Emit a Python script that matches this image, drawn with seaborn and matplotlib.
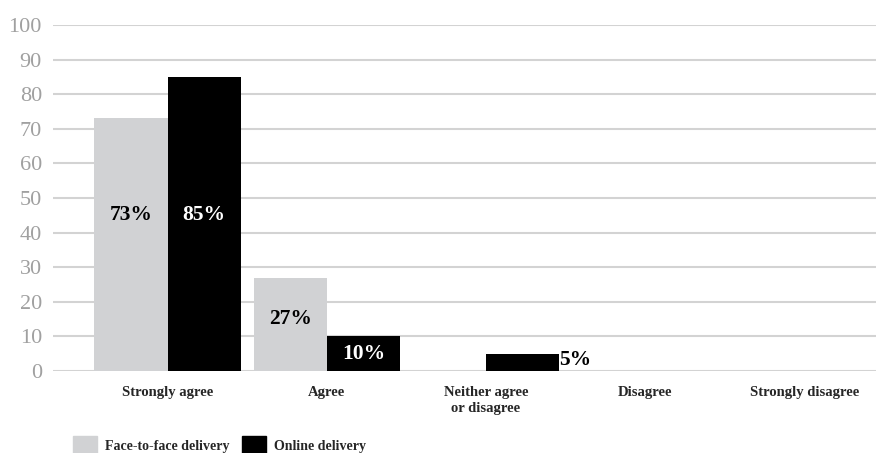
import matplotlib
matplotlib.use("Agg")
import matplotlib.pyplot as plt
import seaborn as sns
import pandas as pd

# Survey responses (% of respondents)
categories = ["Strongly agree", "Agree", "Neither agree\nor disagree",
              "Disagree", "Strongly disagree"]
face_to_face = [73, 27, 0, 0, 0]
online = [85, 10, 5, 0, 0]
series = ["Face-to-face delivery", "Online delivery"]
y_ticks = [0, 10, 20, 30, 40, 50, 60, 70, 80, 90, 100]

df = pd.DataFrame({
    "response": categories * 2,
    "percent": face_to_face + online,
    "delivery": [series[0]] * len(categories) + [series[1]] * len(categories),
})

sns.set_theme(style="white")
plt.rcParams["font.family"] = ["Liberation Serif", "DejaVu Serif"]

fig = plt.figure(figsize=(8.76, 4.53), dpi=100)
ax = fig.add_axes([53 / 876, 1 - 371 / 453, 1 - 53 / 876, (371 - 25) / 453])

palette = {series[0]: "#d1d2d4", series[1]: "#000000"}
sns.barplot(data=df, x="response", y="percent", hue="delivery",
            order=categories, hue_order=series, palette=palette,
            width=0.92, gap=0, linewidth=0, saturation=1,
            legend=False, ax=ax)

ax.set_ylim(0, 100)
ax.set_xlim(-0.72, 4.45)
ax.set_yticks(y_ticks)
ax.yaxis.grid(True, color="#d3d3d3", linewidth=1.5)
ax.set_axisbelow(True)
for s in ax.spines.values():
    s.set_visible(False)
ax.set_xlabel("")
ax.set_ylabel("")
ax.tick_params(axis="y", length=0, pad=8, labelsize=16, labelcolor="#a0a0a0")
ax.tick_params(axis="x", length=0, pad=11, labelsize=10.5)
for lbl in ax.get_xticklabels():
    lbl.set_fontweight("bold")
    lbl.set_linespacing(1.3)

# Value labels: inside the bars (lower part), beside very short ones
label_anchor = {"Strongly agree": 45, "Agree": 15}
text_color = {series[0]: "black", series[1]: "white"}
for name, container in zip(series, ax.containers):
    for cat, bar in zip(categories, container):
        h = bar.get_height()
        if h <= 0:
            continue
        cx = bar.get_x() + bar.get_width() / 2
        if h < 8:
            ax.text(bar.get_x() + bar.get_width(), h * 0.65, f"{h:.0f}%",
                    ha="left", va="center", fontsize=15.5, fontweight="bold",
                    color="black")
        else:
            y = label_anchor.get(cat, h / 2)
            if y >= h:
                y = h / 2
            ax.text(cx, y, f"{h:.0f}%", ha="center", va="center",
                    fontsize=15.5, fontweight="bold", color=text_color[name])

handles = [plt.Rectangle((0, 0), 1, 1, color=palette[s]) for s in series]
fig.legend(handles, series, loc="upper left",
           bbox_to_anchor=(73 / 876, 1 - 436 / 453),
           bbox_transform=fig.transFigure, ncol=2, frameon=False,
           borderpad=0, borderaxespad=0, handlelength=1.73, handleheight=1.73,
           handletextpad=0.58, columnspacing=0.9,
           prop={"size": 10, "weight": "bold"})

fig.savefig("out.png", dpi=100)
